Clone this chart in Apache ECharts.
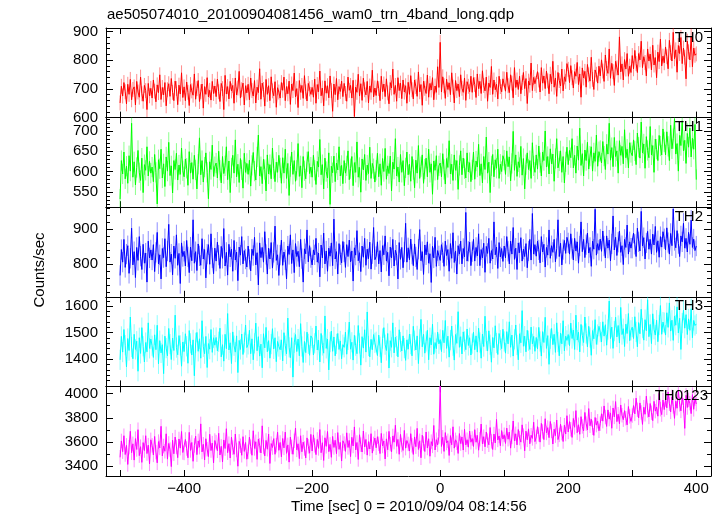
<!DOCTYPE html>
<html><head><meta charset="utf-8">
<script src="https://cdn.jsdelivr.net/npm/echarts@6/dist/echarts.min.js"></script>
<style>html,body{margin:0;padding:0;background:#fff}#c{width:722px;height:516px}</style>
</head><body><div id="c"></div>
<script>
const T_START = -500, T_STEP = 2;
const th0 = [
651,709,675,722,690,648,716,681,733,662,698,707,644,726,689,671,741,683,657,712,694,628,719,676,702,
668,731,692,655,714,687,749,663,705,679,722,641,697,718,674,736,688,659,727,701,645,713,682,756,670,
707,659,724,688,642,715,693,678,752,664,701,729,656,690,717,633,708,681,739,672,695,661,726,684,710,
673,734,690,656,719,701,628,747,682,708,665,726,693,712,650,738,679,703,761,668,697,720,644,711,686,
716,662,738,694,675,729,651,706,687,770,664,720,698,640,733,681,711,659,742,693,676,725,636,704,689,
668,722,695,741,659,708,683,727,646,717,694,755,672,701,635,729,688,712,667,746,690,658,719,700,681,
705,671,734,650,715,690,762,676,703,641,728,685,711,669,745,694,622,717,680,736,662,708,691,727,673,
719,684,657,741,695,712,668,730,604,706,688,751,675,718,660,737,697,679,726,651,710,688,765,672,703,
677,728,701,659,744,690,717,673,735,686,648,722,703,769,681,712,657,739,694,720,666,731,689,711,650,
723,681,746,697,665,731,708,674,759,690,715,643,727,702,684,748,671,719,696,739,662,710,688,777,705,
862,689,742,711,667,734,698,721,680,756,706,651,729,694,717,673,749,702,688,738,660,725,709,690,744,
688,739,715,670,752,701,726,684,763,712,693,741,657,720,705,778,681,731,697,716,665,744,708,690,735,
734,692,758,711,687,749,720,669,774,705,731,698,744,683,722,757,701,736,649,727,713,790,694,740,718,
712,760,731,689,774,720,745,701,762,728,683,751,717,796,706,738,674,757,729,710,769,693,742,726,788,
768,722,781,739,703,760,744,792,715,752,671,773,738,761,706,785,749,727,810,733,698,766,751,720,779,
745,801,762,726,818,771,754,839,737,789,760,712,796,773,748,881,759,787,731,802,769,823,744,779,757,
816,770,834,788,757,823,801,866,774,812,792,745,839,797,821,766,852,783,809,739,828,795,873,780,814,
791,846,812,770,869,826,797,897,805,836,758,851,823,879,788,842,810,735,866,829,801,884,777,842,817,
822];
const th1 = [
532,627,594,648,582,613,571,639,601,719,586,624,567,610,652,597,578,633,548,617,603,661,589,625,596,
611,575,642,598,520,629,607,655,584,619,563,636,601,672,590,614,547,627,605,645,579,616,593,658,602,
587,631,608,566,649,596,622,581,640,604,557,618,683,592,627,574,611,646,598,533,624,605,665,588,612,
621,584,650,603,572,637,595,614,661,580,626,548,609,640,596,678,587,618,573,632,604,559,645,598,620,
593,628,564,615,647,601,579,636,690,589,612,570,630,605,552,641,594,617,582,658,607,575,623,598,640,
609,571,634,596,655,583,620,541,612,648,593,627,576,603,669,588,614,560,637,602,582,624,649,595,611,
586,640,603,568,625,611,679,592,617,557,633,600,584,646,519,613,597,638,575,621,604,661,589,615,570,
627,596,614,651,580,607,637,565,622,598,673,586,610,549,631,604,642,578,616,595,660,583,620,607,574,
603,645,587,619,566,632,600,657,581,614,595,638,552,623,606,681,589,611,574,642,598,627,565,609,648,
592,618,576,637,605,560,628,596,664,583,612,641,571,606,633,587,655,598,619,544,626,603,639,580,614,
621,587,644,605,569,632,610,676,594,618,578,641,603,627,556,615,651,592,633,607,584,646,599,622,575,
604,648,581,626,611,667,590,619,572,637,605,685,596,623,548,614,642,587,629,608,655,583,618,600,639,
628,593,651,612,636,577,620,699,603,641,588,624,610,662,591,632,557,617,646,605,627,583,671,614,598,
641,606,663,622,589,648,627,700,611,637,594,656,619,643,576,632,681,609,626,651,598,637,572,624,660,
617,652,634,681,609,640,596,663,628,707,615,644,589,653,627,672,606,638,661,601,646,625,690,613,649,
652,621,674,638,605,667,643,719,628,659,612,684,637,651,596,676,640,662,619,703,634,655,609,671,647,
639,678,651,617,695,660,633,722,646,668,608,686,652,634,711,641,664,598,680,655,627,689,663,641,705,
673,641,698,662,627,714,656,681,730,643,669,601,689,664,725,651,677,620,694,660,707,636,682,655,716,
580];
const th2 = [
768,842,806,871,791,829,853,774,817,903,798,836,762,848,811,879,823,785,857,803,832,749,866,818,841,
812,856,779,834,891,801,827,758,845,819,873,793,838,914,806,829,770,852,817,884,797,831,745,861,822,
837,795,868,821,776,849,810,927,803,836,782,858,824,797,873,815,842,761,829,856,800,887,818,773,846,
809,863,826,788,851,817,902,795,834,769,857,821,843,780,868,812,835,753,849,826,879,801,839,815,792,
852,814,781,843,825,877,798,833,741,861,819,848,806,893,828,772,846,815,862,789,834,909,811,827,768,
826,869,797,835,813,758,852,828,884,802,841,776,859,822,837,793,871,816,749,844,830,898,807,853,819,
798,841,827,874,806,832,764,855,818,889,801,838,780,846,823,861,796,929,815,836,772,859,827,804,865,
835,791,856,822,869,807,838,752,847,826,896,810,833,779,852,820,874,797,843,816,863,786,830,905,813,
822,864,801,839,778,853,827,881,809,834,767,849,818,871,795,840,826,758,862,814,848,790,835,917,806,
847,813,872,829,796,858,821,785,843,899,810,836,771,855,827,864,803,830,748,851,818,877,794,839,824,
811,856,833,794,866,825,842,780,859,817,890,805,838,772,853,829,866,801,845,821,948,809,837,863,796,
836,871,809,848,824,887,796,842,818,860,777,851,831,874,803,839,815,921,827,849,788,862,821,845,808,
852,818,879,837,801,866,829,905,814,846,785,861,833,876,809,843,822,859,790,838,871,812,945,829,856,
823,866,841,804,879,835,857,792,848,826,898,817,853,834,871,807,845,927,822,860,798,842,868,831,877,
861,829,887,845,812,874,838,864,803,852,921,836,871,819,856,889,832,848,794,866,843,957,826,859,840,
872,837,895,852,818,881,846,869,810,858,938,841,877,825,863,895,834,853,799,871,848,912,829,864,846,
846,889,857,822,903,864,838,951,852,876,815,861,894,843,871,829,886,855,908,834,867,820,879,849,893,
873,841,904,862,829,888,853,958,868,847,896,859,822,881,864,917,846,874,835,891,857,926,848,872,839,
852];
const th3 = [
1398,1486,1427,1512,1453,1371,1478,1433,1559,1446,1402,1494,1437,1468,1355,1481,1422,1519,1449,1390,1463,1428,1537,1441,1476,
1451,1407,1492,1436,1528,1383,1470,1424,1455,1346,1487,1442,1413,1516,1457,1399,1480,1433,1566,1444,1417,1489,1452,1374,1465,
1429,1496,1449,1385,1508,1460,1416,1473,1338,1462,1501,1430,1477,1404,1545,1447,1421,1486,1369,1459,1438,1512,1426,1481,1453,
1482,1431,1466,1517,1409,1455,1393,1494,1440,1572,1435,1462,1384,1503,1451,1427,1488,1350,1471,1437,1495,1418,1463,1529,1444,
1456,1509,1421,1477,1398,1460,1536,1432,1485,1412,1457,1368,1496,1443,1520,1428,1470,1404,1457,1515,1439,1481,1391,1467,1448,
1436,1473,1394,1500,1451,1420,1555,1445,1406,1481,1333,1462,1493,1429,1476,1413,1534,1448,1388,1467,1425,1502,1458,1415,1488,
1480,1416,1460,1525,1435,1472,1390,1497,1452,1423,1563,1441,1476,1360,1465,1506,1430,1484,1413,1458,1497,1437,1469,1402,1455,
1445,1502,1419,1473,1540,1438,1464,1397,1490,1451,1421,1527,1460,1378,1485,1442,1511,1427,1578,1450,1409,1475,1436,1493,1462,
1466,1414,1491,1447,1387,1478,1519,1455,1433,1497,1367,1470,1445,1537,1424,1483,1450,1409,1511,1465,1431,1488,1442,1396,1473,
1438,1495,1457,1413,1524,1470,1435,1488,1384,1475,1550,1447,1494,1423,1467,1509,1398,1481,1454,1532,1419,1463,1440,1502,1458,
1474,1429,1509,1462,1546,1441,1487,1408,1472,1525,1451,1397,1493,1460,1579,1445,1485,1420,1503,1467,1436,1514,1452,1481,1416,
1459,1502,1436,1488,1427,1517,1463,1404,1495,1448,1562,1469,1431,1507,1455,1389,1482,1443,1526,1461,1418,1497,1472,1440,1513,
1467,1423,1504,1458,1541,1445,1491,1412,1475,1529,1454,1398,1496,1462,1583,1449,1487,1428,1509,1470,1437,1521,1458,1486,1430,
1482,1439,1520,1467,1412,1504,1463,1558,1441,1489,1381,1477,1516,1455,1494,1426,1537,1465,1413,1498,1458,1545,1432,1487,1471,
1493,1451,1536,1478,1510,1437,1566,1472,1502,1428,1531,1489,1463,1559,1497,1447,1524,1482,1415,1508,1477,1549,1456,1493,1524,
1502,1465,1541,1487,1530,1453,1512,1619,1478,1521,1441,1506,1558,1484,1527,1461,1595,1493,1515,1448,1532,1497,1572,1470,1509,
1521,1478,1560,1503,1447,1538,1496,1588,1517,1472,1549,1507,1624,1485,1531,1459,1571,1513,1491,1547,1466,1529,1602,1494,1540,
1538,1491,1575,1520,1612,1506,1547,1471,1563,1528,1597,1499,1554,1437,1536,1585,1517,1568,1493,1552,1509,1590,1481,1546,1527,
1533];
const th0123 = [
3472,3608,3519,3651,3495,3571,3413,3556,3688,3510,3584,3449,3627,3537,3701,3486,3560,3430,3594,3528,3651,3503,3573,3418,3617,
3571,3492,3645,3515,3426,3602,3550,3729,3484,3566,3522,3667,3457,3587,3536,3395,3613,3501,3640,3558,3469,3624,3548,3686,3512,
3508,3620,3545,3468,3679,3529,3595,3439,3570,3647,3494,3608,3556,3749,3517,3580,3450,3626,3539,3478,3663,3528,3590,3426,3611,
3598,3526,3671,3491,3563,3434,3616,3545,3709,3510,3585,3466,3639,3552,3497,3665,3533,3398,3604,3568,3489,3643,3521,3595,3456,
3518,3639,3561,3489,3692,3546,3601,3455,3624,3571,3508,3733,3557,3484,3612,3539,3664,3421,3586,3553,3627,3497,3572,3681,3530,
3595,3476,3628,3550,3681,3505,3575,3432,3640,3558,3497,3609,3715,3534,3584,3461,3651,3518,3598,3545,3467,3633,3563,3506,3662,
3524,3658,3571,3494,3620,3546,3702,3510,3593,3446,3634,3563,3686,3519,3579,3472,3645,3554,3613,3502,3677,3538,3595,3441,3609,
3586,3521,3675,3554,3611,3478,3638,3566,3724,3533,3595,3454,3659,3577,3516,3690,3558,3620,3490,3602,3541,3668,3507,3583,3632,
3551,3643,3584,3503,3670,3566,3608,3458,3625,3535,3687,3581,3518,3649,3598,3738,3563,3620,3497,3662,3574,3529,3695,3548,3611,
3583,3524,3668,3571,3496,3641,3560,3712,3537,3609,3468,3655,3587,3520,3682,3549,3626,3481,3602,3567,3736,3533,3618,3575,3644,
4075,3562,3638,3521,3677,3591,3609,3487,3652,3576,3725,3548,3617,3593,3504,3669,3586,3641,3532,3704,3575,3618,3556,3689,3597,
3628,3562,3701,3597,3654,3531,3622,3748,3584,3643,3559,3682,3611,3576,3719,3604,3537,3665,3591,3786,3616,3649,3568,3694,3623,
3659,3587,3714,3622,3681,3548,3641,3773,3608,3667,3575,3702,3631,3598,3741,3652,3526,3689,3617,3708,3584,3655,3629,3763,3602,
3641,3726,3662,3598,3753,3687,3619,3792,3674,3718,3635,3769,3691,3582,3705,3652,3781,3619,3658,3746,3673,3603,3738,3665,3817,
3682,3768,3705,3637,3794,3721,3859,3676,3742,3663,3809,3728,3691,3844,3751,3699,3876,3734,3788,3717,3654,3802,3739,3771,3692,
3751,3833,3772,3898,3806,3728,3865,3789,3840,3713,3881,3807,3934,3768,3829,3750,3906,3821,3784,3859,3796,3741,3893,3812,3770,
3818,3901,3832,3963,3866,3799,3923,3844,3745,3887,3829,3979,3861,3807,3918,3842,3776,3936,3855,3889,3813,4002,3871,3826,3947,
3868,3951,3882,4013,3916,3849,3973,3894,3795,3937,3879,4029,3911,3857,3968,3902,3712,3986,3885,3948,3921,3834,3992,3870,3959,
3914];
// typical half-length of the error bars in each band (counts/sec)
const bandErr = [26, 25, 29, 38, 60];

const bandNames = ['TH0','TH1','TH2','TH3','TH0123'];
const bandColors = ['#ff0000','#00ff00','#0000ff','#00ffff','#ff00ff'];
const errColors = ['rgba(255,0,0,0.45)','rgba(0,255,0,0.45)','rgba(0,0,255,0.45)','rgba(0,255,255,0.45)','rgba(255,0,255,0.45)'];
const bandValues = [th0, th1, th2, th3, th0123];
const yMin = [600, 512, 707, 1298, 3317];
const yMax = [912, 733, 963, 1635, 4060];
const ySplit = [3, 5, 2, 3, 4];
const yMinorSplit = [5, 5, 5, 5, 2];
const xMin = -522, xMax = 423;
const titleText = 'ae505074010_20100904081456_wam0_trn_4band_long.qdp';
const xTitle = 'Time [sec] 0 = 2010/09/04 08:14:56';
const yTitle = 'Counts/sec';

const FONT = '"Liberation Sans", Arial, Helvetica, sans-serif';
const FS = 15;
const G_LEFT = 106, G_RIGHT = 11, G_TOP = 28, G_H = 89.6;

const grids = [], xAxes = [], yAxes = [], series = [], graphics = [];
const black = '#000';
for (let k = 0; k < 5; k++) {
  const top = G_TOP + G_H * k;
  grids.push({left: G_LEFT, right: G_RIGHT, top: top, height: G_H, containLabel: false});
  const baseX = {
    type: 'value', gridIndex: k, min: xMin, max: xMax, splitNumber: 9,
    axisLine: {show: true, onZero: false, lineStyle: {color: black, width: 1}},
    axisTick: {show: true, inside: true, length: 6, lineStyle: {color: black, width: 1}},
    splitLine: {show: false}
  };
  xAxes.push(Object.assign({}, baseX, {
    position: 'bottom',
    axisLabel: {
      show: k === 4, color: black, fontFamily: FONT, fontSize: FS, margin: 5,
      showMinLabel: false, showMaxLabel: false,
      formatter: v => (Math.round(v) % 200 === 0) ? String(Math.round(v)).replace('-', '\u2212') : ''
    }
  }));
  xAxes.push(Object.assign({}, baseX, {position: 'top', axisLabel: {show: false}}));
  const baseY = {
    type: 'value', gridIndex: k, min: yMin[k], max: yMax[k], splitNumber: ySplit[k],
    axisLine: {show: true, onZero: false, lineStyle: {color: black, width: 1}},
    axisTick: {show: true, inside: true, length: 7, lineStyle: {color: black, width: 1}},
    minorTick: {show: true, splitNumber: yMinorSplit[k], length: 4, lineStyle: {color: black, width: 1}},
    splitLine: {show: false}, minorSplitLine: {show: false}
  };
  yAxes.push(Object.assign({}, baseY, {
    position: 'left',
    axisLabel: {
      show: true, color: black, fontFamily: FONT, fontSize: FS, margin: 8,
      showMinLabel: k === 0, showMaxLabel: false,
      formatter: v => {
        const step = [100, 50, 100, 100, 200][k];
        if (Math.abs(v / step - Math.round(v / step)) > 1e-6) return '';
        if (k === 3 && v === 1300) return '';
        return String(v);
      }
    }
  }));
  yAxes.push(Object.assign({}, baseY, {position: 'right', axisLabel: {show: false}}));
  const vals = bandValues[k];
  const err = bandErr[k];
  const ecol = errColors[k];
  series.push({
    type: 'custom', name: bandNames[k] + ' err', xAxisIndex: 2 * k, yAxisIndex: 2 * k,
    data: vals.map((v, i) => [T_START + i * T_STEP, v, err]),
    encode: {x: 0, y: 1}, clip: true, silent: true, animation: false, z: 1,
    renderItem: (params, api) => {
      const x = api.value(0), y = api.value(1), e = api.value(2);
      const p1 = api.coord([x, y - e]);
      const p2 = api.coord([x, y + e]);
      return {type: 'line', shape: {x1: p1[0], y1: p1[1], x2: p2[0], y2: p2[1]},
              style: {stroke: ecol, lineWidth: 1}};
    }
  });
  series.push({
    type: 'line', name: bandNames[k], xAxisIndex: 2 * k, yAxisIndex: 2 * k,
    data: vals.map((v, i) => [T_START + i * T_STEP, v]),
    showSymbol: false, symbol: 'none', clip: true, silent: true,
    lineStyle: {color: bandColors[k], width: 1}, itemStyle: {color: bandColors[k]},
    animation: false, z: 2
  });
  graphics.push({
    type: 'text', z: 100, x: k === 4 ? 708 : 703, y: top + 9.5,
    style: {text: bandNames[k], fill: black, font: FS + 'px ' + FONT, textAlign: 'right', textVerticalAlign: 'middle'}
  });
}

graphics.push({type: 'text', z: 100, x: 107, y: 15,
  style: {text: titleText, fill: black, font: FS + 'px ' + FONT, textAlign: 'left', textVerticalAlign: 'middle'}});
graphics.push({type: 'text', z: 100, x: 409, y: 507,
  style: {text: xTitle, fill: black, font: FS + 'px ' + FONT, textAlign: 'center', textVerticalAlign: 'middle'}});
graphics.push({type: 'text', z: 100, x: 40, y: 270, rotation: Math.PI / 2,
  style: {text: yTitle, fill: black, font: FS + 'px ' + FONT, textAlign: 'center', textVerticalAlign: 'middle'}});

const chart = echarts.init(document.getElementById('c'), null, {renderer: 'canvas', width: 722, height: 516});
chart.setOption({
  animation: false,
  backgroundColor: '#fff',
  grid: grids, xAxis: xAxes, yAxis: yAxes, series: series, graphic: graphics
});
</script>
</body></html>
